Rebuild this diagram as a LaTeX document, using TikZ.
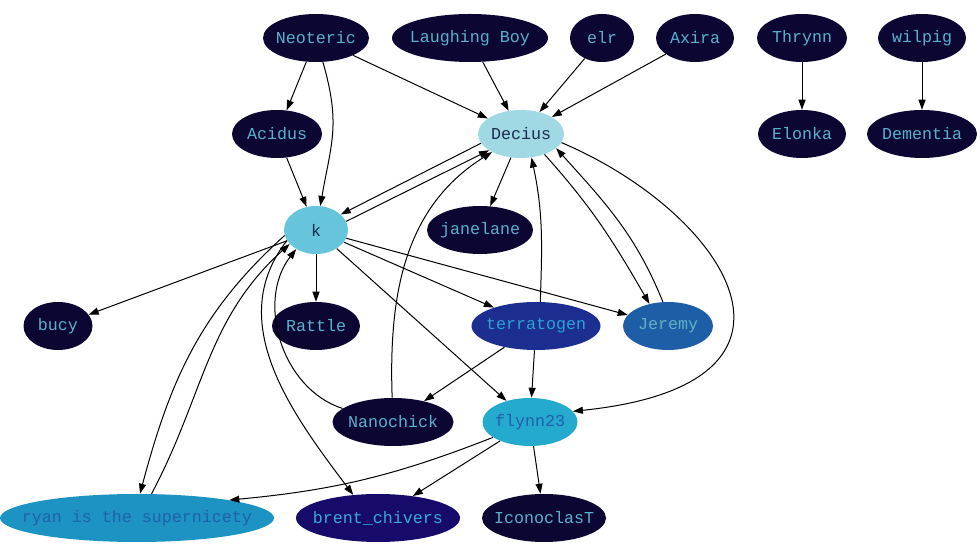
\documentclass[tikz,border=0pt]{standalone}
\usepackage{fontspec}
\setmonofont{Liberation Mono}
\usetikzlibrary{shapes.geometric,arrows.meta}
\definecolor{dark}{HTML}{0C0632}
\definecolor{lt}{HTML}{58B2CC}
\definecolor{decfill}{HTML}{A0D8E4}
\definecolor{kfill}{HTML}{66C5DB}
\definecolor{deep}{HTML}{1A2A50}
\definecolor{terfill}{HTML}{1C2E90}
\definecolor{tertext}{HTML}{2CA2D4}
\definecolor{jerfill}{HTML}{1E5EA6}
\definecolor{jertext}{HTML}{5EB2C4}
\definecolor{flyfill}{HTML}{24AACE}
\definecolor{bluetext}{HTML}{2060AC}
\definecolor{ryanfill}{HTML}{1C93C3}
\definecolor{brentfill}{HTML}{160B6A}
\definecolor{brenttext}{HTML}{3AAAD6}
\newcommand{\lbl}[1]{\makebox[0pt][c]{\raisebox{-1.2pt}{#1}}}
\begin{document}
\begin{tikzpicture}[x=0.75pt,y=0.75pt,
  nd/.style={ellipse, inner sep=0pt, minimum height=36pt, fill=dark, text=lt,
    font=\ttfamily\fontsize{12.5}{15}\selectfont},
  e/.style={-{Triangle[length=7.5pt,width=5.25pt]}, line width=0.75pt, black}]
\useasboundingbox (0,0) rectangle (980,552);
% row 1 (y=38)
\node[nd, minimum width=79.5pt] (Neo) at (316,514) {\lbl{Neoteric}};
\node[nd, minimum width=117pt] (LB) at (470,514) {\lbl{Laughing Boy}};
\node[nd, minimum width=48pt] (elr) at (602,514) {\lbl{elr}};
\node[nd, minimum width=58.5pt] (Axi) at (695,514) {\lbl{Axira}};
\node[nd, minimum width=67.5pt] (Thr) at (802,514) {\lbl{Thrynn}};
\node[nd, minimum width=66pt] (wil) at (922,514) {\lbl{wilpig}};
% row 2 (y=134)
\node[nd, minimum width=67.5pt] (Aci) at (277,418) {\lbl{Acidus}};
\node[nd, minimum width=64.5pt, fill=decfill, text=deep] (Dec) at (521,418) {\lbl{Decius}};
\node[nd, minimum width=66pt] (Elo) at (802,418) {\lbl{Elonka}};
\node[nd, minimum width=82.5pt] (Dem) at (922,418) {\lbl{Dementia}};
% row 3 (y=230)
\node[nd, minimum width=48pt, fill=kfill, text=deep] (k) at (316,322) {\lbl{k}};
\node[nd, minimum width=79.5pt] (jan) at (480,322) {\lbl{janelane}};
% row 4 (y=326)
\node[nd, minimum width=51.75pt] (bucy) at (58,226) {\lbl{bucy}};
\node[nd, minimum width=66pt] (Rat) at (316,226) {\lbl{Rattle}};
\node[nd, minimum width=96.75pt, fill=terfill, text=tertext] (ter) at (536,226) {\lbl{terratogen}};
\node[nd, minimum width=67.5pt, fill=jerfill, text=jertext] (Jer) at (668,226) {\lbl{Jeremy}};
% row 5 (y=422)
\node[nd, minimum width=90.75pt] (Nan) at (393,130) {\lbl{Nanochick}};
\node[nd, minimum width=71.25pt, fill=flyfill, text=bluetext] (fly) at (530,130) {\lbl{flynn23}};
% row 6 (y=518)
\node[nd, minimum width=205.5pt, fill=ryanfill, text=bluetext] (ryan) at (137,34) {\lbl{ryan is the supernicety}};
\node[nd, minimum width=123pt, fill=brentfill, text=brenttext] (brent) at (378,34) {\lbl{brent\_chivers}};
\node[nd, minimum width=93pt] (Ico) at (544,34) {\lbl{IconoclasT}};
% edges
\draw[e] (Neo) -- (Aci);
\draw[e] (Neo) to[out=-74,in=80,looseness=1.15] (k);
\draw[e] (Neo) -- (Dec);
\draw[e] (LB) -- (Dec);
\draw[e] (elr) -- (Dec);
\draw[e] (Axi) -- (Dec);
\draw[e] (Thr) -- (Elo);
\draw[e] (wil) -- (Dem);
\draw[e] (Aci) -- (k);
\draw[e] (Dec.193) -- (k.32);
\draw[e] (k.16) -- (Dec.207);
\draw[e] (Nan.92) to[out=92,in=212] (Dec.212);
\draw[e] (Dec) -- (jan);
\draw[e] (Dec.-41) to[out=-48,in=120] (Jer.130);
\draw[e] (Jer.102) to[out=112,in=-48] (Dec.-22);
\draw[e] (Dec.-12) .. controls (725,340) and (840,168) .. (fly.14);
\draw[e] (ter.80) to[out=88,in=-78] (Dec.-66);
\draw[e] (k) -- (bucy);
\draw[e] (k) -- (Rat);
\draw[e] (k) -- (ter);
\draw[e] (k) -- (Jer);
\draw[e] (k) -- (fly);
\draw[e] (k.190) to[out=222,in=75] (ryan.83);
\draw[e] (ryan.59) to[out=62,in=222] (k.208);
\draw[e] (k.200) to[out=232,in=127] (brent.137);
\draw[e] (Nan.165) to[out=162,in=232] (k.224);
\draw[e] (ter) -- (Nan);
\draw[e] (ter) -- (fly);
\draw[e] (fly) to[bend left=8] (ryan.11);
\draw[e] (fly) -- (brent);
\draw[e] (fly) -- (Ico);
\end{tikzpicture}
\end{document}
